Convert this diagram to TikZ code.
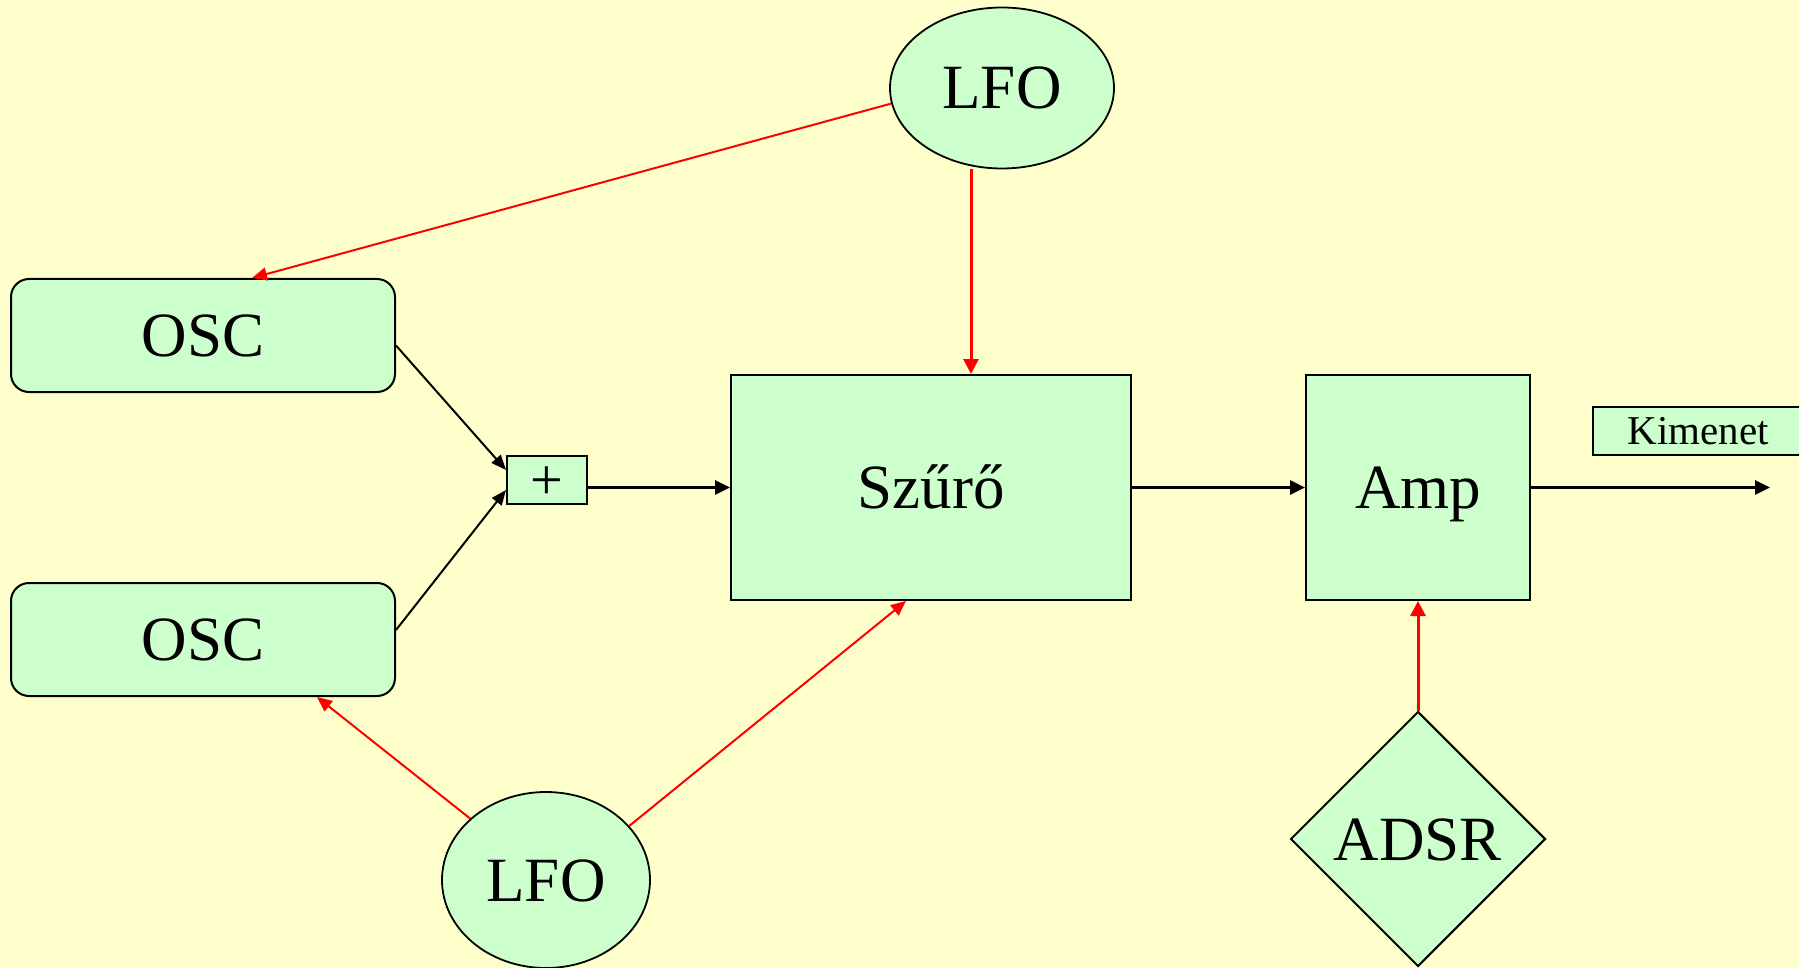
\documentclass[tikz,border=0pt]{standalone}
\usepackage{fontspec}
\setmainfont{Liberation Serif}
\usetikzlibrary{shapes.geometric,arrows.meta}
\definecolor{bgc}{HTML}{FFFFCC}
\definecolor{grc}{HTML}{CCFFCC}
\begin{document}
\begin{tikzpicture}[x=1pt,y=-1pt,
  blk/.style={draw,line width=2pt,fill=grc,inner sep=0pt,
    font=\fontsize{63}{63}\selectfont,text height=42pt,text depth=0pt},
  oscbox/.style={blk,rounded corners=18pt,minimum width=384pt,minimum height=113pt},
  sqbox/.style={blk,minimum height=225pt},
  lfo/.style={blk,ellipse,line width=1.8pt},
  blkarr/.style={line width=2pt,-{Triangle[length=15pt,width=12pt]}},
  blkarrh/.style={line width=3pt,-{Triangle[length=15pt,width=14pt]}},
  redarr/.style={red,line width=2pt,-{Triangle[length=15pt,width=13pt]}},
  redarrv/.style={red,line width=3pt,-{Triangle[length=15pt,width=15pt]}}]
\clip (0,0) rectangle (1799,968);
\fill[bgc] (0,0) rectangle (1799,968);
% nodes
\node[oscbox] (osc1) at (203,335.5) {OSC};
\node[oscbox] (osc2) at (203,639.5) {OSC};
\node[blk,font=\fontsize{58}{58}\selectfont,text height=38pt,minimum width=80pt,minimum height=48pt] (plus) at (547,480) {+};
\node[sqbox,minimum width=400pt] (szuro) at (931,487.5) {Szűrő};
\node[sqbox,minimum width=224pt] (amp) at (1418,487.5) {Amp};
\node[lfo,minimum width=224pt,minimum height=161pt] (lfo1) at (1002,88) {LFO};
\node[lfo,minimum width=208pt,minimum height=176pt] (lfo2) at (546,880) {LFO};
\node[blk,diamond,aspect=1,minimum width=255pt,minimum height=255pt] (adsr) at (1418,839) {ADSR};
\node[blk,font=\fontsize{41}{41}\selectfont,text height=27pt,minimum width=210pt,minimum height=48pt] (kim) at (1698,431) {Kimenet};
\coordinate (out) at (1770,487.5);
% black connectors
\draw[blkarr] ([yshift=-10pt]osc1.east) -- ([yshift=10pt]plus.west);
\draw[blkarr] ([yshift=9.5pt]osc2.east) -- ([yshift=-10pt]plus.west);
\draw[blkarrh] ([yshift=-7.5pt]plus.east) -- (szuro.west);
\draw[blkarrh] (szuro.east) -- (amp.west);
\draw[blkarrh] (amp.east) -- (out);
% red connectors
\draw[redarr] (lfo1.188) -- ([xshift=49pt]osc1.north);
\draw[redarrv] ([xshift=-31pt]lfo1.south) -- ([xshift=40pt]szuro.north);
\draw[redarr] (lfo2.141) -- ([xshift=114pt]osc2.south);
\draw[redarr] (lfo2.33) -- ([xshift=-25pt]szuro.south);
\draw[redarrv] (adsr.north) -- (amp.south);
\end{tikzpicture}
\end{document}
